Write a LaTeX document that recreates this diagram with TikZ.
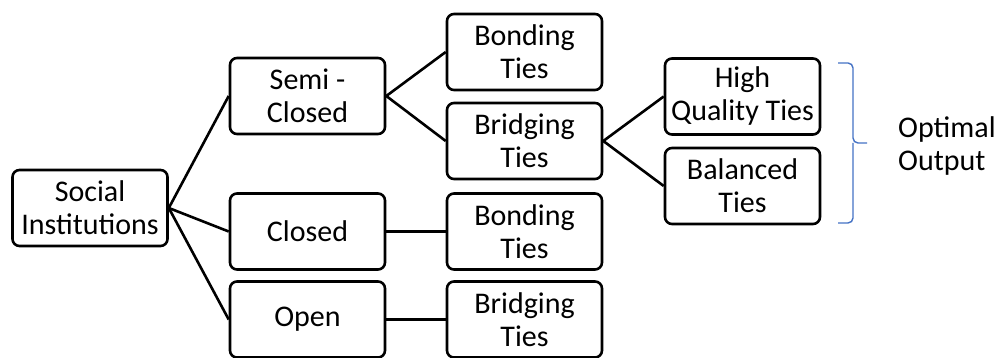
\documentclass[tikz,border=0pt]{standalone}
\usepackage{fontspec}
\setmainfont{Carlito}
\definecolor{bracecol}{RGB}{68,114,196}
\begin{document}
\begin{tikzpicture}[x=1pt,y=1pt,
  box/.style={draw=black, line width=2.6pt, rounded corners=7pt, fill=white,
    minimum width=155pt, minimum height=76pt, align=center, inner sep=0pt,
    font=\fontsize{30}{33}\selectfont},
  link/.style={draw=black, line width=2.6pt},
  bracepath/.style={draw=bracecol, line width=1.4pt, rounded corners=5pt}]
\useasboundingbox (0,0) rectangle (1001,358);

% first level
\node[box] (soc) at (90,150) {Social\\Institutions};
% second level
\node[box] (semi)   at (307.5,262)   {Semi -\\Closed};
\node[box] (closed) at (307.5,126.5) {Closed};
\node[box] (open)   at (307.5,38.5)  {Open};
% third level
\node[box] (bond1)  at (524.5,306)   {Bonding\\Ties};
\node[box] (bridg1) at (524.5,217)   {Bridging\\Ties};
\node[box] (bond2)  at (524.5,126.5) {Bonding\\Ties};
\node[box] (bridg2) at (524.5,38.5)  {Bridging\\Ties};
% fourth level
\node[box] (hq)  at (742.5,261.5) {High\\Quality Ties};
\node[box] (bal) at (742.5,172)   {Balanced\\Ties};

% connectors
\draw[link] (soc.east) -- (semi.west);
\draw[link] (soc.east) -- (closed.west);
\draw[link] (soc.east) -- (open.west);
\draw[link] (semi.east) -- (bond1.west);
\draw[link] (semi.east) -- (bridg1.west);
\draw[link] (closed.east) -- (bond2.west);
\draw[link] (open.east) -- (bridg2.west);
\draw[link] (bridg1.east) -- (hq.west);
\draw[link] (bridg1.east) -- (bal.west);

% brace grouping the outputs
\coordinate (btop) at (838,295);
\coordinate (btip) at (867,215);
\coordinate (bbot) at (838,135);
\draw[bracepath] (btop) -| (853,215) -- (btip);
\draw[bracepath] (bbot) -| (853,215);

\node[anchor=west, align=left, inner sep=0pt,
  font=\fontsize{30}{33}\selectfont] (out) at (898,212) {Optimal\\Output};
\end{tikzpicture}
\end{document}
